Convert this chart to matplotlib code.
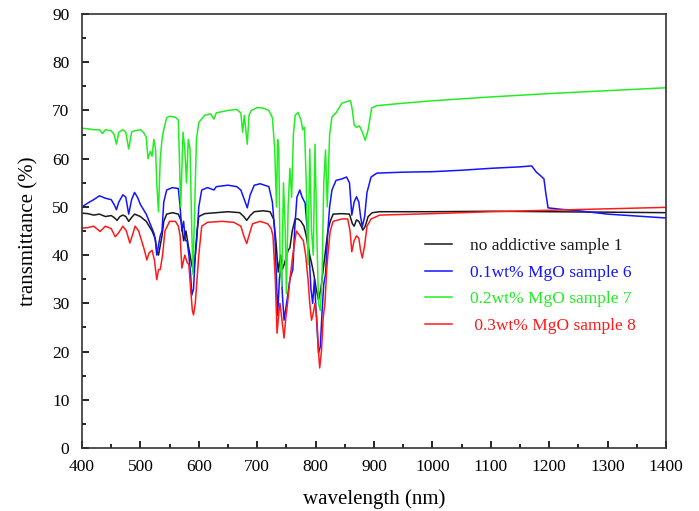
import matplotlib
matplotlib.use("Agg")
import matplotlib.pyplot as plt
from matplotlib.ticker import MultipleLocator

plt.rcParams['font.family'] = ['Liberation Serif', 'DejaVu Serif']

labels = ["no addictive sample 1", "0.1wt% MgO sample 6", "0.2wt% MgO sample 7", " 0.3wt% MgO sample 8"]
colors = ["#1a1a1a", "#1414ff", "#22ee22", "#ff1a1a"]

# sample 1 (black)
wl_s1 = [400, 410, 420, 430, 440, 450, 455, 460, 465, 470, 475, 480, 485, 490, 500, 510, 515, 520, 525, 528,
         531, 534, 537, 540, 545, 555, 565, 570, 574, 578, 582, 585, 588, 591, 594, 597, 600, 610, 630, 650,
         670, 677, 682, 688, 695, 710, 722, 728, 732, 736, 740, 743, 746, 750, 753, 756, 760, 765, 770, 775,
         780, 784, 788, 793, 797, 801, 805, 809, 813, 817, 821, 825, 830, 845, 858, 863, 866, 870, 874, 878,
         881, 885, 890, 897, 910, 1000, 1100, 1200, 1300, 1400]
tr_s1 = [48.7, 48.6, 48.3, 48.5, 48.0, 48.2, 47.8, 47.2, 48.0, 48.3, 48.0, 47.0, 47.8, 48.5, 48.0, 47.0, 46.0, 45.0, 43.5, 41.0,
         40.0, 42.0, 44.0, 47.0, 48.5, 48.8, 48.5, 47.0, 43.0, 45.0, 42.0, 40.0, 38.0, 36.5, 40.0, 45.0, 48.0, 48.6, 48.8, 49.0,
         48.8, 48.0, 47.2, 48.2, 49.0, 49.2, 49.0, 47.5, 43.0, 36.5, 40.0, 37.0, 38.0, 39.7, 41.0, 41.5, 45.0, 47.5, 47.5, 47.0,
         46.0, 44.0, 41.0, 38.4, 36.0, 33.0, 30.7, 33.0, 37.0, 41.0, 45.0, 47.0, 48.5, 48.6, 48.5, 46.5, 46.0, 47.3, 47.0, 46.0,
         45.2, 46.0, 48.0, 48.8, 49.0, 49.0, 49.1, 49.0, 48.9, 48.8]

# sample 6 (blue)
wl_s6 = [400, 410, 420, 430, 440, 450, 455, 459, 463, 470, 475, 480, 485, 490, 495, 500, 505, 510, 515, 520,
         523, 526, 528, 531, 534, 537, 540, 545, 555, 565, 568, 571, 574, 577, 580, 583, 586, 588, 591, 594,
         597, 600, 605, 615, 626, 630, 650, 665, 672, 678, 683, 688, 695, 705, 720, 726, 730, 733, 735, 738,
         741, 743, 746, 749, 752, 756, 761, 764, 768, 773, 777, 782, 786, 789, 792, 795, 798, 801, 805, 808,
         811, 814, 817, 821, 824, 828, 835, 845, 853, 858, 862, 866, 870, 874, 877, 880, 884, 888, 895, 905,
         950, 1000, 1050, 1100, 1150, 1170, 1178, 1185, 1191, 1194, 1198, 1220, 1250, 1300, 1350, 1400]
tr_s6 = [50.0, 50.8, 51.5, 52.3, 51.8, 51.5, 50.5, 49.4, 51.0, 52.5, 52.0, 48.5, 51.5, 53.0, 52.0, 50.5, 49.5, 48.5, 47.0, 45.5,
         44.6, 43.0, 40.0, 42.0, 44.0, 45.0, 51.0, 53.5, 54.0, 53.8, 50.0, 45.0, 47.0, 43.0, 43.0, 40.0, 36.0, 31.7, 33.0, 40.0,
         44.0, 50.0, 53.5, 54.0, 53.5, 54.2, 54.5, 54.2, 53.5, 51.5, 49.8, 52.5, 54.5, 54.8, 54.2, 51.0, 45.0, 35.0, 27.5, 35.0,
         38.0, 32.0, 26.5, 29.0, 31.4, 35.0, 37.0, 45.0, 52.0, 53.5, 52.0, 50.8, 45.0, 40.0, 33.0, 30.0, 35.0, 28.0, 19.7, 21.0,
         28.0, 34.0, 36.0, 45.0, 50.0, 53.5, 55.5, 55.8, 56.2, 55.0, 48.3, 51.0, 52.1, 51.0, 48.0, 45.9, 48.0, 53.0, 56.2, 57.0,
         57.2, 57.3, 57.6, 58.0, 58.3, 58.5, 57.2, 56.5, 55.8, 53.0, 49.8, 49.5, 49.2, 48.5, 48.1, 47.7]

# sample 7 (green)
wl_s7 = [400, 410, 420, 430, 435, 440, 450, 455, 459, 463, 470, 475, 480, 485, 490, 500, 505, 510, 513, 517,
         520, 523, 526, 528, 531, 534, 537, 540, 545, 550, 560, 565, 569, 573, 576, 579, 582, 585, 588, 590,
         593, 596, 600, 610, 620, 626, 630, 650, 665, 672, 675, 678, 683, 686, 690, 700, 710, 720, 726, 730,
         733, 735, 737, 739, 742, 745, 748, 750, 753, 756, 759, 762, 765, 770, 775, 778, 781, 784, 787, 790,
         793, 796, 799, 802, 805, 808, 811, 814, 817, 820, 824, 828, 835, 845, 855, 860, 863, 866, 870, 875,
         880, 885, 890, 896, 905, 950, 1000, 1100, 1200, 1300, 1400]
tr_s7 = [66.3, 66.2, 66.0, 66.0, 65.2, 66.0, 65.8, 65.0, 63.0, 65.5, 66.0, 65.5, 62.0, 65.5, 65.8, 66.0, 65.5, 64.5, 60.0, 61.5,
         60.5, 64.0, 62.0, 55.0, 49.0, 60.0, 64.0, 66.0, 68.5, 68.8, 68.6, 68.0, 50.0, 65.5, 62.0, 55.0, 64.0, 62.0, 45.0, 36.0,
         50.0, 64.0, 67.5, 69.0, 69.3, 68.2, 69.5, 70.0, 70.2, 69.5, 65.5, 69.0, 63.0, 69.0, 70.0, 70.6, 70.5, 70.0, 68.5, 62.0,
         50.0, 64.0, 62.0, 40.0, 33.5, 55.0, 45.0, 32.0, 50.0, 58.0, 52.0, 65.0, 69.0, 69.6, 68.0, 66.0, 66.5, 55.0, 38.0, 62.0,
         45.0, 40.0, 63.0, 45.0, 30.0, 28.5, 35.0, 55.0, 61.8, 50.0, 65.0, 68.7, 69.5, 71.5, 71.9, 72.0, 70.0, 67.0, 66.5, 66.8,
         65.5, 63.8, 66.0, 70.5, 71.0, 71.5, 72.0, 72.8, 73.5, 74.1, 74.7]

# sample 8 (red)
wl_s8 = [400, 410, 420, 431, 440, 450, 457, 462, 470, 476, 482, 486, 491, 497, 502, 507, 511, 515, 520, 524,
         528, 531, 534, 538, 542, 550, 560, 565, 568, 571, 576, 580, 583, 586, 589, 591, 594, 597, 600, 605,
         615, 640, 660, 672, 677, 682, 687, 692, 705, 718, 724, 727, 731, 734, 737, 739, 742, 746, 749, 752,
         756, 761, 767, 773, 779, 783, 787, 790, 793, 796, 799, 802, 805, 807, 810, 813, 816, 819, 821, 825,
         830, 845, 855, 859, 862, 866, 870, 874, 877, 880, 884, 888, 895, 910, 1000, 1100, 1200, 1300, 1400]
tr_s8 = [45.6, 45.7, 46.0, 44.9, 46.0, 45.5, 43.8, 44.5, 46.0, 45.0, 42.5, 44.0, 46.0, 45.0, 43.0, 41.0, 39.0, 40.5, 41.0, 39.0,
         34.9, 37.0, 37.0, 40.0, 45.0, 47.0, 47.0, 46.0, 44.0, 37.3, 40.0, 38.5, 38.0, 33.0, 28.5, 27.6, 30.0, 35.0, 40.0, 46.0,
         46.8, 47.0, 46.8, 46.0, 44.0, 42.4, 44.5, 46.5, 47.0, 46.5, 45.5, 44.0, 35.0, 23.8, 28.0, 30.0, 27.0, 22.8, 27.0, 30.0,
         35.0, 40.0, 45.0, 44.0, 43.0, 40.0, 35.0, 30.0, 26.5, 28.0, 30.0, 27.0, 20.0, 16.6, 20.0, 27.0, 30.0, 37.0, 40.0, 45.0,
         47.0, 47.5, 47.5, 45.0, 40.7, 43.0, 44.0, 43.5, 41.0, 39.4, 42.0, 46.0, 47.5, 48.3, 48.6, 49.0, 49.3, 49.6, 49.9]

series = [(wl_s1, tr_s1), (wl_s6, tr_s6), (wl_s7, tr_s7), (wl_s8, tr_s8)]

fig = plt.figure(figsize=(6.99, 5.11), dpi=100)
ax = fig.add_axes([0.1173, 0.1233, 0.8355, 0.8493])

for (wl, tr), lab, col in zip(series, labels, colors):
    ax.plot(wl, tr, color=col, lw=1.1, label=lab)

ax.set_xlim(400, 1400)
ax.set_ylim(0, 90)
ax.xaxis.set_major_locator(MultipleLocator(100))
ax.xaxis.set_minor_locator(MultipleLocator(50))
ax.yaxis.set_major_locator(MultipleLocator(10))
ax.yaxis.set_minor_locator(MultipleLocator(5))
ax.tick_params(which='both', direction='in', top=False, right=False, labelsize=12.5, width=1.2)
ax.tick_params(which='major', length=5)
ax.tick_params(which='minor', length=3)
ax.tick_params(axis='x', pad=8)
ax.tick_params(axis='y', pad=9)
for s in ax.spines.values():
    s.set_linewidth(1.2)
    s.set_color('#333333')

ax.set_xlabel("wavelength (nm)", fontsize=15, labelpad=10)
ax.set_ylabel("transmittance (%)", fontsize=15, labelpad=10)

leg = ax.legend(loc='upper left', bbox_to_anchor=(0.56, 0.52), frameon=False, fontsize=12.5,
                handlelength=1.6, handletextpad=1.0, labelspacing=0.6, labelcolor='linecolor')

fig.savefig("out.png", dpi=100)
